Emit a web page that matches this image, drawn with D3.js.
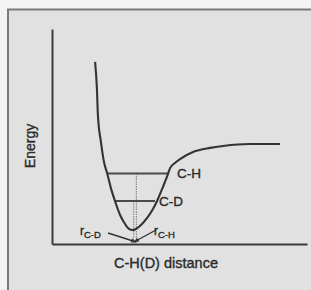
<!DOCTYPE html>
<html>
<head>
<meta charset="utf-8">
<script src="https://cdn.jsdelivr.net/npm/d3@7"></script>
<style>
  html, body { margin: 0; padding: 0; background: #f3f3f3; }
  svg { display: block; font-family: "Liberation Sans", Arial, sans-serif; }
  .lbl { fill: #2a2a2a; stroke: #2a2a2a; stroke-width: 0.35; }
</style>
</head>
<body>
<div id="chart"></div>
<script>
// curve (arbitrary units)
const distance = [1.69, 1.76, 1.80, 1.92, 2.04, 2.16, 2.31, 2.47, 2.67, 2.82, 2.98, 3.14, 3.29, 3.49, 3.73, 3.96, 4.12, 4.35, 4.55, 4.63, 4.82, 5.02, 5.53, 6.20, 6.71, 7.76, 8.94];
const energy   = [8.47, 7.26, 6.00, 4.74, 3.81, 3.30, 2.60, 2.00, 1.35, 1.02, 0.74, 0.65, 0.70, 0.88, 1.21, 1.63, 2.00, 2.65, 3.26, 3.53, 3.77, 3.95, 4.28, 4.47, 4.56, 4.65, 4.65];

// zero-point levels
const levelNames = ["C-H", "C-D"];
const levelEnergy = [3.28, 2.00];
const levelLeft = [2.16, 2.47];
const levelRight = [4.55, 4.04];
const levelR = [3.31, 3.20];

function drawWell(tagName, xSize = 311, ySize = 290) {
    const svg = d3.select(tagName)
        .append('svg')
        .attr('width', xSize)
        .attr('height', ySize)

    // scanned page background + frame
    svg.append('rect').attr('x', 8).attr('y', 9).attr('width', xSize - 8).attr('height', ySize - 9)
        .attr('fill', '#e1e1e1')
    svg.append('path')
        .attr('d', `M8,${ySize} L8,9.5 L${xSize},9.5`)
        .attr('fill', 'none').attr('stroke', '#7a7a7a').attr('stroke-width', 2)

    const xScale = d3.scaleLinear().domain([0, 10]).range([52, 307])
    const yScale = d3.scaleLinear().domain([0, 10]).range([244, 29])

    // axes, no ticks
    svg.append('g')
        .attr('transform', `translate(52, 0)`)
        .call(d3.axisLeft(yScale).tickValues([]).tickSizeOuter(0))
    svg.append('g')
        .attr('transform', `translate(0, 244)`)
        .call(d3.axisBottom(xScale).tickValues([]).tickSizeOuter(0))
    svg.selectAll('.domain').attr('stroke', '#3a3a3a').attr('stroke-width', 2)

    // vertical r lines
    svg.append('g')
        .selectAll('line')
        .data(levelR)
        .enter()
        .append('line')
        .attr('x1', d => xScale(d)).attr('x2', d => xScale(d))
        .attr('y1', (d, i) => yScale(levelEnergy[i])).attr('y2', yScale(0))
        .attr('stroke', '#8a8a8a').attr('stroke-width', 1.2).attr('stroke-dasharray', '1.5,1')

    // levels
    svg.append('g')
        .selectAll('line')
        .data(levelEnergy)
        .enter()
        .append('line')
        .attr('x1', (d, i) => xScale(levelLeft[i])).attr('x2', (d, i) => xScale(levelRight[i]))
        .attr('y1', d => yScale(d)).attr('y2', d => yScale(d))
        .attr('stroke', '#4a4a4a').attr('stroke-width', 1.8)

    // potential curve
    const pts = distance.map((d, i) => [d, energy[i]])
    svg.append('path')
        .datum(pts)
        .attr('fill', 'none')
        .attr('stroke', '#333')
        .attr('stroke-width', 2.1)
        .attr('d', d3.line().x(d => xScale(d[0])).y(d => yScale(d[1])).curve(d3.curveMonotoneX))

    // level labels
    const labelGap = [9, 4]
    svg.append('g')
        .selectAll('text')
        .data(levelNames)
        .enter()
        .append('text')
        .attr('class', 'lbl')
        .text(d => d)
        .attr('x', (d, i) => xScale(levelRight[i]) + labelGap[i])
        .attr('y', (d, i) => yScale(levelEnergy[i]) + 5)
        .attr('font-size', 13.5)

    // r labels with arrows
    const rLab = [
        {r: levelR[1], name: 'C-D', tx: 80, ax: 108, ay: 233, dir: -1},
        {r: levelR[0], name: 'C-H', tx: 154, ax: 156, ay: 230, dir: 1}
    ]
    rLab.forEach(o => {
        const t = svg.append('text').attr('class', 'lbl').attr('x', o.tx).attr('y', 235)
        t.append('tspan').attr('font-size', 12).text('r')
        t.append('tspan').attr('font-size', 9.5).attr('dy', 3).text(o.name)
        const x2 = xScale(o.r) - o.dir * 2.5
        const y2 = 242
        const ang = Math.atan2(y2 - o.ay, x2 - o.ax)
        svg.append('path')
            .attr('d', `M${o.ax},${o.ay} L${x2},${y2}`)
            .attr('stroke', '#333').attr('stroke-width', 1.4).attr('fill', 'none')
        const hl = 5, hw = 2.2
        const bx = x2 - hl * Math.cos(ang), by = y2 - hl * Math.sin(ang)
        svg.append('path')
            .attr('d', `M${x2},${y2} L${bx - hw * Math.sin(ang)},${by + hw * Math.cos(ang)} L${bx + hw * Math.sin(ang)},${by - hw * Math.cos(ang)} Z`)
            .attr('fill', '#333')
    })

    // axis titles
    svg.append('text')
        .attr('class', 'lbl')
        .attr('x', -146)
        .attr('y', 35)
        .attr('transform', 'rotate(-90)')
        .attr('text-anchor', 'middle')
        .attr('font-size', 14)
        .text('Energy')
    svg.append('text')
        .attr('class', 'lbl')
        .attr('x', 166)
        .attr('y', 268)
        .attr('text-anchor', 'middle')
        .attr('font-size', 14.5)
        .text('C-H(D) distance')
}

drawWell('#chart')
</script>
</body>
</html>
